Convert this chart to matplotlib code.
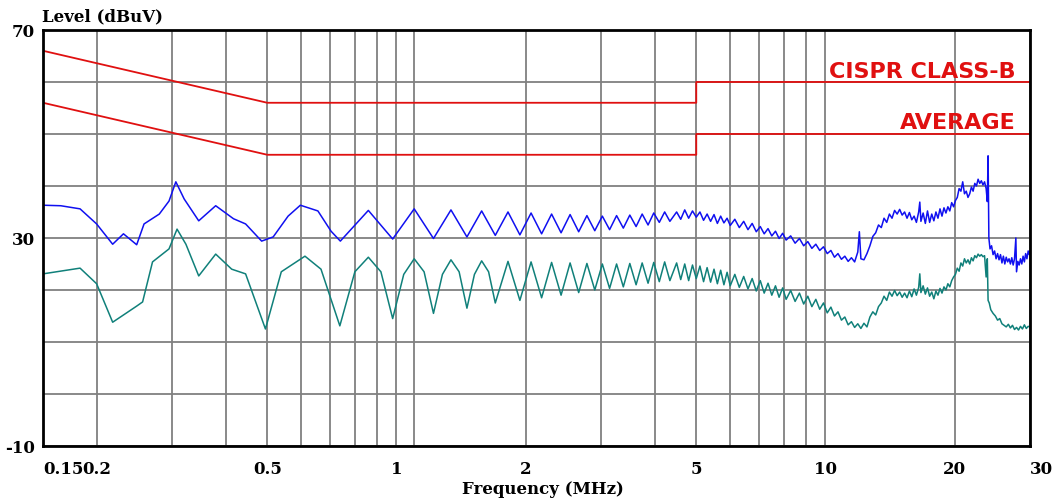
import matplotlib
matplotlib.use("Agg")
from matplotlib import pyplot as plt

# CISPR 22 class B limits (MHz, dBuV)
qp_freq = [0.15, 0.5, 0.5, 5.0, 5.0, 30.0]
qp_limit = [66, 56, 56, 56, 60, 60]
av_freq = [0.15, 0.5, 0.5, 5.0, 5.0, 30.0]
av_limit = [56, 46, 46, 46, 50, 50]

# peak trace (blue)
peak_freq = [0.150, 0.165, 0.183, 0.200, 0.218, 0.231, 0.248, 0.258, 0.280, 0.295,
             0.306, 0.320, 0.346, 0.379, 0.417, 0.445, 0.485, 0.516, 0.559, 0.597,
             0.656, 0.704, 0.740, 0.86, 0.98, 1.10, 1.22, 1.34, 1.46, 1.58,
             1.70, 1.82, 1.94, 2.06, 2.18, 2.30, 2.42, 2.54, 2.66, 2.78,
             2.90, 3.02, 3.14, 3.26, 3.38, 3.50, 3.62, 3.74, 3.86, 3.98,
             4.10, 4.22, 4.34, 4.5, 4.6, 4.7, 4.8, 4.9, 5.0, 5.1,
             5.2, 5.3, 5.4, 5.5, 5.6, 5.7, 5.8, 5.9, 6.0, 6.15,
             6.3, 6.45, 6.6, 6.75, 6.9, 7.05, 7.2, 7.35, 7.5, 7.65,
             7.8, 7.95, 8.1, 8.3, 8.5, 8.7, 8.9, 9.1, 9.3, 9.5,
             9.7, 9.9, 10.1, 10.3, 10.5, 10.7, 10.9, 11.1, 11.3, 11.5,
             11.7, 11.9, 12.0, 12.1, 12.3, 12.5, 12.7, 12.9, 13.1, 13.3,
             13.5, 13.7, 13.9, 14.1, 14.3, 14.5, 14.7, 14.9, 15.1, 15.3,
             15.5, 15.7, 15.9, 16.1, 16.3, 16.5, 16.6, 16.7, 16.9, 17.1,
             17.3, 17.5, 17.7, 17.9, 18.1, 18.3, 18.5, 18.7, 18.9, 19.1,
             19.3, 19.5, 19.7, 19.9, 20.1, 20.3, 20.5, 20.7, 20.9, 21.1,
             21.3, 21.5, 21.7, 21.9, 22.1, 22.3, 22.5, 22.7, 22.9, 23.1,
             23.3, 23.5, 23.7, 23.85, 23.95, 24.05, 24.2, 24.4, 24.6, 24.8,
             25.0, 25.2, 25.4, 25.6, 25.8, 26.0, 26.2, 26.4, 26.6, 26.8,
             27.0, 27.2, 27.4, 27.6, 27.8, 27.9, 28.1, 28.3, 28.5, 28.7,
             28.9, 29.1, 29.3, 29.5, 29.7, 29.9, 30.0]
peak_level = [36.3, 36.2, 35.6, 32.7, 28.8, 30.8, 28.7, 32.7, 34.6, 37.1,
              40.8, 37.5, 33.3, 36.2, 33.7, 32.7, 29.4, 30.2, 34.2, 36.3,
              35.2, 31.3, 29.4, 35.3, 29.8, 35.6, 29.9, 35.4, 30.2, 35.2,
              30.5, 35.0, 30.6, 34.8, 30.8, 34.6, 31.0, 34.5, 31.2, 34.3,
              31.4, 34.2, 31.6, 34.3, 31.9, 34.4, 32.2, 34.6, 32.5, 34.8,
              33.0, 35.0, 33.2, 35.0, 33.6, 35.4, 33.8, 35.2, 34.0, 35.0,
              33.4, 34.6, 33.2, 34.5, 32.8, 34.2, 32.9, 33.8, 32.4, 33.6,
              32.0, 33.2, 31.6, 32.8, 31.2, 32.2, 30.8, 31.8, 30.4, 31.3,
              29.9, 30.9, 29.6, 30.4, 29.0, 29.9, 28.5, 29.3, 28.0, 28.8,
              27.6, 28.3, 27.0, 27.6, 26.3, 27.0, 25.9, 26.5, 25.5, 26.2,
              25.4, 27.3, 31.2, 26.0, 25.8, 27.0, 28.5, 30.3, 31.0, 32.5,
              32.0, 33.8, 33.0, 34.6, 33.8, 35.3, 34.6, 35.5, 34.4, 35.0,
              33.8, 34.9, 33.5, 34.2, 33.0, 35.0, 36.9, 33.2, 34.8, 32.8,
              35.2, 33.0, 34.6, 33.3, 35.0, 33.8, 35.6, 34.2, 35.8, 34.8,
              36.0, 35.2, 36.8, 36.0, 37.2, 37.8, 39.5, 39.0, 40.8, 38.5,
              39.0, 37.8, 38.5, 39.8, 39.0, 40.5, 40.0, 41.3, 40.5, 41.0,
              40.2, 40.8, 39.5, 37.0, 45.8, 30.0, 27.9, 28.5, 26.8, 27.5,
              26.0, 27.0, 25.8, 26.8, 25.2, 26.5, 25.0, 26.3, 25.4, 26.0,
              25.0, 26.2, 24.8, 26.0, 30.0, 23.5, 25.5, 24.8, 26.0, 25.0,
              26.5, 25.4, 27.0, 26.0, 27.5, 26.8, 27.3]

# average trace (teal)
avg_freq = [0.150, 0.183, 0.200, 0.218, 0.248, 0.256, 0.270, 0.295, 0.308, 0.323,
            0.346, 0.379, 0.413, 0.445, 0.495, 0.539, 0.612, 0.667, 0.738, 0.80,
            0.86, 0.92, 0.98, 1.04, 1.10, 1.16, 1.22, 1.28, 1.34, 1.40,
            1.46, 1.52, 1.58, 1.64, 1.70, 1.82, 1.94, 2.06, 2.18, 2.30,
            2.42, 2.54, 2.66, 2.78, 2.90, 3.02, 3.14, 3.26, 3.38, 3.50,
            3.62, 3.74, 3.86, 3.98, 4.10, 4.22, 4.34, 4.5, 4.6, 4.7,
            4.8, 4.9, 5.0, 5.1, 5.2, 5.3, 5.4, 5.5, 5.6, 5.7,
            5.8, 5.9, 6.0, 6.15, 6.3, 6.45, 6.6, 6.75, 6.9, 7.05,
            7.2, 7.35, 7.5, 7.65, 7.8, 7.95, 8.1, 8.3, 8.5, 8.7,
            8.9, 9.1, 9.3, 9.5, 9.7, 9.9, 10.1, 10.3, 10.5, 10.7,
            10.9, 11.1, 11.3, 11.5, 11.7, 11.9, 12.1, 12.3, 12.5, 12.7,
            12.9, 13.1, 13.3, 13.5, 13.7, 13.9, 14.1, 14.3, 14.5, 14.7,
            14.9, 15.1, 15.3, 15.5, 15.7, 15.9, 16.1, 16.3, 16.5, 16.6,
            16.7, 16.9, 17.1, 17.3, 17.5, 17.7, 17.9, 18.1, 18.3, 18.5,
            18.7, 18.9, 19.1, 19.3, 19.5, 19.7, 19.9, 20.1, 20.3, 20.5,
            20.7, 20.9, 21.1, 21.3, 21.5, 21.7, 21.9, 22.1, 22.3, 22.5,
            22.7, 22.9, 23.1, 23.3, 23.5, 23.7, 23.85, 23.95, 24.1, 24.3,
            24.6, 24.9, 25.2, 25.5, 25.8, 26.1, 26.4, 26.7, 27.0, 27.3,
            27.6, 27.9, 28.2, 28.5, 28.8, 29.1, 29.4, 29.7, 30.0]
avg_level = [23.1, 24.2, 21.2, 13.8, 16.9, 17.7, 25.4, 27.9, 31.7, 28.8,
             22.7, 26.9, 24.0, 23.1, 12.5, 23.5, 26.5, 24.0, 13.1, 23.5,
             26.3, 23.5, 14.5, 23.0, 26.0, 23.5, 15.5, 23.0, 25.8, 23.5,
             16.5, 23.0, 25.6, 23.5, 17.5, 25.5, 18.0, 25.4, 18.5, 25.3,
             19.0, 25.2, 19.5, 25.1, 20.0, 25.0, 20.3, 25.0, 20.6, 25.1,
             21.0, 25.2, 21.3, 25.3, 21.6, 25.4, 21.8, 25.2, 22.0, 25.0,
             21.8, 24.8, 22.2, 24.6, 21.6, 24.3, 21.5, 24.0, 21.2, 23.8,
             21.0, 23.4, 20.8, 23.0, 20.5, 22.6, 20.2, 22.2, 19.8, 21.8,
             19.4, 21.3, 19.0, 20.8, 18.6, 20.4, 18.2, 19.9, 17.8, 19.4,
             17.3, 18.8, 16.8, 18.2, 16.3, 17.5, 15.6, 16.7, 15.0, 15.8,
             14.2, 14.8, 13.3, 13.9, 12.8, 13.5, 12.6, 13.6, 12.9, 14.8,
             15.8, 15.2, 16.8, 17.5, 18.8, 18.0, 19.6, 18.8, 19.9, 18.9,
             19.6, 18.6, 19.4, 18.5, 19.8, 18.7, 20.2, 19.0, 20.5, 23.1,
             19.5, 20.8, 19.2, 20.4, 18.8, 19.6, 18.3, 19.8, 19.0, 20.3,
             19.4, 20.6, 20.0, 21.2, 20.6, 21.8, 22.5, 23.0, 24.2, 23.6,
             25.2, 24.6, 26.0, 25.2, 25.8, 25.0, 26.2, 25.6, 26.6, 26.2,
             26.9, 26.5, 26.8, 26.4, 26.6, 22.5, 26.0, 18.0, 17.5, 16.2,
             15.5, 15.0, 14.2, 14.5, 13.5, 13.2, 12.9, 13.4, 12.7, 13.2,
             12.4, 12.8, 12.3, 13.0, 12.5, 13.3, 12.6, 13.0, 12.9]

major_ticks = [0.15, 0.2, 0.5, 1, 2, 5, 10, 20, 30]
major_labels = ["0.15", "0.2", "0.5", "1", "2", "5", "10", "20", "30"]
minor_ticks = [0.3, 0.4, 0.6, 0.7, 0.8, 0.9, 1.1, 3, 4, 6, 7, 8, 9]
y_ticks = [-10, 0, 10, 20, 30, 40, 50, 60, 70]
y_labels = ["-10", "", "", "", "30", "", "", "", "70"]

red = "#e01010"
lab_font = dict(family="DejaVu Serif", weight="bold", size=12)

fig = plt.figure(figsize=(10.57, 5.02), dpi=100)
ax = fig.add_axes([0.0407, 0.1096, 0.9338, 0.8287])

ax.plot(qp_freq, qp_limit, color=red, linewidth=1.3)
ax.plot(av_freq, av_limit, color=red, linewidth=1.3)
ax.plot(peak_freq, peak_level, color="#1010f0", linewidth=1.1)
ax.plot(avg_freq, avg_level, color="#10807a", linewidth=1.1)

ax.set_xscale("log")
ax.set_xlim(0.15, 30)
ax.set_ylim(-10, 70)
ax.set_xticks(major_ticks)
ax.set_xticklabels(major_labels, fontdict=lab_font)
ax.set_xticks(minor_ticks, minor=True)
ax.set_xticklabels([], minor=True)
ax.set_yticks(y_ticks)
ax.set_yticklabels(y_labels, fontdict=lab_font)
ax.tick_params(which="both", length=0)
ax.tick_params(axis="x", pad=10)
ax.tick_params(axis="y", pad=6)
xl = ax.get_xticklabels()
xl[0].set_ha("left")
xl[-1].set_ha("left")
ax.grid(True, which="both", color="#808080", linewidth=1.3)
ax.set_axisbelow(True)
for s in ax.spines.values():
    s.set_linewidth(2)
    s.set_color("black")

ax.text(27.8, 62.1, "CISPR CLASS-B", color=red, fontsize=16, fontweight="bold",
        family="DejaVu Sans", ha="right", va="center")
ax.text(27.8, 52.3, "AVERAGE", color=red, fontsize=16, fontweight="bold",
        family="DejaVu Sans", ha="right", va="center")

fig.text(0.0397, 0.966, "Level (dBuV)", fontdict=lab_font, ha="left", va="center")
fig.text(0.514, 0.024, "Frequency (MHz)", fontdict=lab_font, ha="center", va="center")

plt.savefig("out.png", dpi=100)
